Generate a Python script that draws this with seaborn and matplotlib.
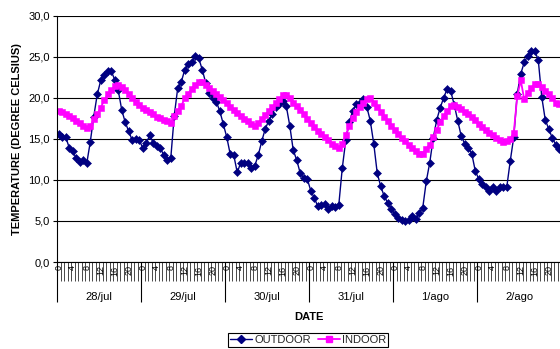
import numpy as np
import pandas as pd
import matplotlib
matplotlib.use("Agg")
import matplotlib.pyplot as plt
from matplotlib.lines import Line2D
import seaborn as sns

# hourly readings, 28/jul 0h .. 2/ago 23h
days = ["28/jul", "29/jul", "30/jul", "31/jul", "1/ago", "2/ago"]
hour_labels = [0, 4, 8, 12, 16, 20]

outdoor = [
    15.6, 15.2, 15.2, 13.9, 13.5, 12.6, 12.2, 12.4, 12.0, 14.6, 17.7, 20.4,
    22.1, 22.8, 23.2, 23.2, 22.2, 20.9, 18.5, 17.0, 15.9, 14.8, 15.0, 14.8,
    13.9, 14.5, 15.4, 14.5, 14.1, 13.9, 13.0, 12.4, 12.6, 17.8, 21.2, 21.9,
    23.4, 24.1, 24.4, 25.1, 24.8, 23.4, 21.8, 20.6, 20.0, 19.5, 18.4, 16.8,
    15.2, 13.1, 13.0, 10.9, 12.1, 12.1, 12.0, 11.4, 11.7, 13.0, 14.7, 16.2,
    17.2, 18.0, 18.9, 19.2, 19.6, 19.0, 16.6, 13.6, 12.4, 10.8, 10.2, 10.1,
    8.7, 7.8, 6.8, 6.9, 7.0, 6.4, 6.8, 6.7, 6.9, 11.4, 14.8, 17.0,
    18.4, 19.2, 19.4, 19.8, 18.9, 17.2, 14.4, 10.8, 9.2, 8.0, 7.2, 6.5,
    5.8, 5.3, 5.1, 5.0, 5.1, 5.6, 5.2, 6.0, 6.6, 9.8, 12.1, 15.1,
    17.3, 18.8, 20.0, 21.1, 20.8, 19.1, 17.2, 15.3, 14.4, 13.9, 13.2, 11.1,
    10.1, 9.5, 9.1, 8.7, 9.1, 8.7, 9.1, 9.1, 9.1, 12.3, 15.2, 20.5,
    22.9, 24.3, 25.1, 25.7, 25.7, 24.6, 20.1, 17.3, 16.2, 15.1, 14.3, 13.7,
]

indoor = [
    18.4, 18.2, 18.0, 17.8, 17.5, 17.2, 16.9, 16.6, 16.3, 16.5, 17.4, 18.0,
    18.8, 19.7, 20.4, 20.9, 21.4, 21.6, 21.3, 20.9, 20.4, 19.9, 19.5, 19.1,
    18.8, 18.5, 18.2, 18.0, 17.7, 17.5, 17.3, 17.1, 16.9, 17.8, 18.4, 19.0,
    19.9, 20.5, 21.1, 21.6, 21.9, 21.9, 21.6, 21.2, 20.8, 20.4, 20.1, 19.7,
    19.3, 18.9, 18.5, 18.1, 17.8, 17.4, 17.1, 16.8, 16.6, 16.9, 17.4, 17.9,
    18.4, 18.9, 19.3, 19.8, 20.3, 20.3, 19.9, 19.4, 19.0, 18.5, 18.0, 17.4,
    16.9, 16.4, 16.0, 15.6, 15.2, 14.8, 14.4, 14.1, 13.9, 14.4, 15.5, 16.5,
    17.5, 18.3, 18.9, 19.4, 19.8, 19.9, 19.4, 18.9, 18.3, 17.7, 17.1, 16.6,
    16.1, 15.6, 15.1, 14.7, 14.3, 13.9, 13.5, 13.2, 13.2, 13.8, 14.3, 15.2,
    16.1, 17.0, 17.8, 18.4, 19.0, 19.1, 18.9, 18.6, 18.3, 18.0, 17.7, 17.3,
    16.8, 16.4, 16.1, 15.7, 15.4, 15.1, 14.8, 14.6, 14.7, 15.0, 15.7, 20.2,
    22.1, 19.8, 20.6, 21.2, 21.7, 21.7, 21.3, 20.8, 20.4, 20.0, 19.4, 19.2,
]

sns.set_theme(style="white")
plt.rcParams["font.family"] = ["Liberation Sans", "DejaVu Sans"]

df = pd.DataFrame({"hour": np.arange(len(outdoor)), "OUTDOOR": outdoor, "INDOOR": indoor})

navy = "#000080"
magenta = "#FF00FF"

fig = plt.figure(figsize=(5.6, 3.49), dpi=100)
fig.patch.set_facecolor("white")
ax = fig.add_axes([57 / 560, 87 / 349, 504 / 560, 246.5 / 349])

sns.lineplot(data=df, x="hour", y="OUTDOOR", ax=ax, color=navy, lw=1.0,
             marker="D", ms=4.4, mec=navy, mew=0.4)
sns.lineplot(data=df, x="hour", y="INDOOR", ax=ax, color=magenta, lw=1.3,
             marker="s", ms=4.0, mec=magenta, mew=0.4)

ax.set_xlim(-0.5, len(outdoor) - 0.5)
ax.set_ylim(0, 30)
ax.set_xlabel("")
ax.set_ylabel("")

# y axis with comma decimals
yt = list(range(0, 31, 5))
ax.set_yticks(yt)
ax.set_yticklabels([f"{v:.1f}".replace(".", ",") for v in yt], fontsize=8, color="black")
ax.tick_params(axis="y", left=True, length=3, width=0.8, color="black", direction="out", pad=2)
ax.yaxis.grid(True, color="black", lw=0.8)
ax.set_axisbelow(True)

# multi-level category axis: hour ticks + day separators
n = len(outdoor)
ax.set_xticks(np.arange(-0.5, n, 24))
ax.set_xticklabels([])
ax.set_xticks(np.arange(-0.5, n, 1), minor=True)
ax.tick_params(axis="x", which="major", bottom=True, length=29, width=0.8, color="black", direction="out")
ax.tick_params(axis="x", which="minor", bottom=True, length=14, width=0.5, color="black", direction="out")

for s in ["top", "right"]:
    ax.spines[s].set_visible(False)
for s in ["left", "bottom"]:
    ax.spines[s].set_color("black")
    ax.spines[s].set_linewidth(0.8)

xt = ax.get_xaxis_transform()
for d, day in enumerate(days):
    for h in hour_labels:
        ax.text(d * 24 + h, -0.014, str(h), transform=xt, rotation=90,
                ha="center", va="top", fontsize=6.5, color="black")
    ax.text(d * 24 + 11.5, -0.143, day, transform=xt, ha="center", va="center",
            fontsize=8, color="black")

ax.text(0.5, -0.225, "DATE", transform=ax.transAxes, ha="center", va="center",
        fontsize=8, fontweight="bold", color="black")
fig.text(17 / 560, 1 - 139 / 349, "TEMPERATURE (DEGREE CELSIUS)", rotation=90,
         ha="center", va="center", fontsize=8, fontweight="bold", color="black")

handles = [
    Line2D([], [], color=navy, lw=1.0, marker="D", ms=4.4, mec=navy),
    Line2D([], [], color=magenta, lw=1.3, marker="s", ms=4.0, mec=magenta),
]
leg = fig.legend(handles, ["OUTDOOR", "INDOOR"], loc="center", ncol=2,
                 bbox_to_anchor=(308 / 560, 1 - 340 / 349), fontsize=8,
                 frameon=True, fancybox=False, framealpha=1, edgecolor="black",
                 handlelength=2.0, handletextpad=0.2, columnspacing=0.6,
                 borderpad=0.2, borderaxespad=0)
leg.get_frame().set_linewidth(0.8)

fig.savefig("out.png", dpi=100)
